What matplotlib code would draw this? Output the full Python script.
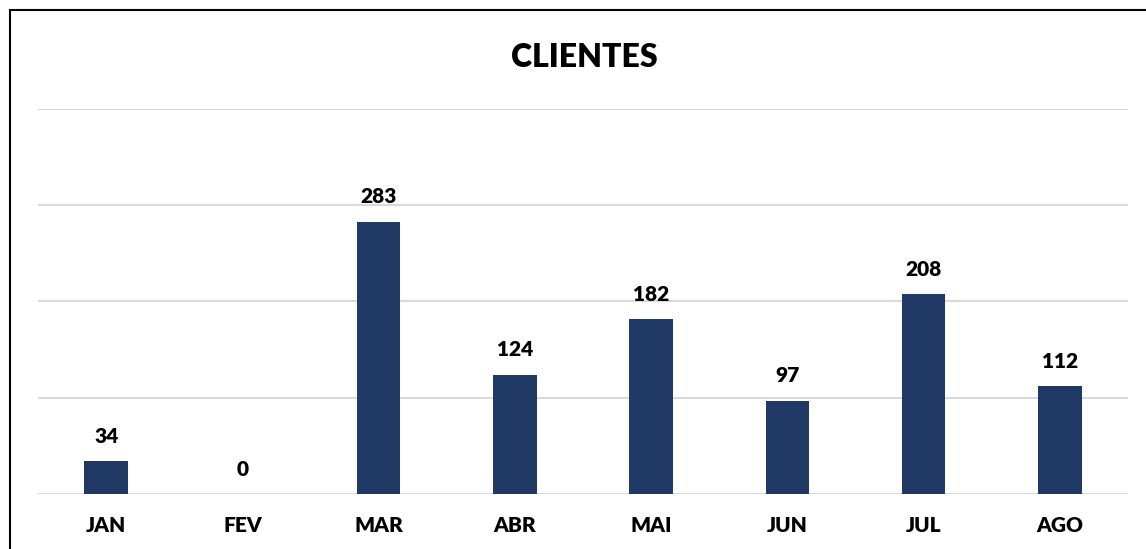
import matplotlib.pyplot as plt
from matplotlib.patches import Rectangle

meses = ['JAN', 'FEV', 'MAR', 'ABR', 'MAI', 'JUN', 'JUL', 'AGO']
clientes = [34, 0, 283, 124, 182, 97, 208, 112]

plt.rcParams['font.family'] = ['Lato', 'DejaVu Sans']

fig = plt.figure(figsize=(11.46, 5.49), dpi=100)
ax = fig.add_axes([0.0332, 0.1002, 0.9511, 0.7013])

x = range(len(meses))
bars = ax.bar(x, clientes, width=0.32, color='#203864', zorder=3)

for xi, v in zip(x, clientes):
    ax.annotate(str(v), (xi, v), xytext=(0, 11), textcoords='offset points',
                ha='center', va='bottom', fontsize=15, fontweight='heavy')

ax.set_xlim(-0.5, len(meses) - 0.5)
ax.set_ylim(0, 400)
ax.set_yticks([0, 100, 200, 300, 400])
ax.set_yticklabels([])
ax.set_xticks(list(x))
ax.set_xticklabels(meses, fontsize=15, fontweight='heavy')
ax.tick_params(axis='both', length=0)
ax.tick_params(axis='x', pad=16)
ax.grid(axis='y', color='#d9d9d9', linewidth=1.5, zorder=0)
for s in ax.spines.values():
    s.set_visible(False)

fig.text(0.5096, 0.895, 'CLIENTES', ha='center', va='center',
         fontsize=23, fontweight='heavy')

# moldura do gráfico
fig.patches.append(Rectangle((10 / 1146, -0.1), 1.2, 1 - 10 / 549 + 0.1,
                             transform=fig.transFigure, fill=False,
                             edgecolor='black', linewidth=1.5))

fig.savefig('out.png', dpi=100)
